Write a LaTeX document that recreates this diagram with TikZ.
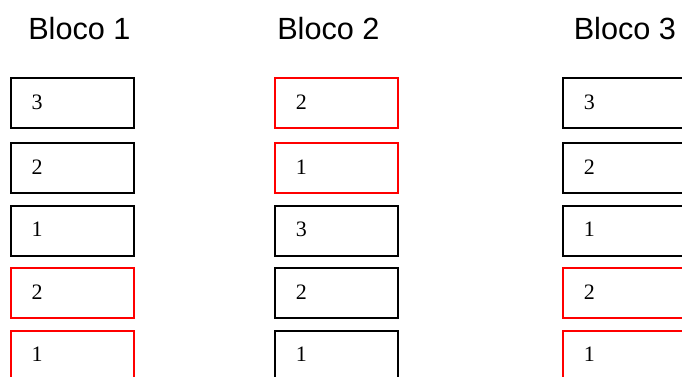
\documentclass[tikz,border=0pt]{standalone}
\usepackage{fontspec}
\setmainfont{Liberation Serif}
\newfontfamily\titlefont{Liberation Sans}
\begin{document}
\begin{tikzpicture}[x=0.75pt,y=-0.75pt,
  cell/.style={draw=black,line width=1.5pt},
  redcell/.style={draw=red,line width=1.5pt},
  title/.style={anchor=base west,inner sep=0pt,font=\titlefont\fontsize{23pt}{27pt}\selectfont},
  digit/.style={anchor=base west,inner sep=0pt,font=\fontsize{16.5pt}{20pt}\selectfont}]
\useasboundingbox (0,0) rectangle (682,377);
\clip (0,0) rectangle (682,377);
\node[title] (t1) at (28,39.3) {Bloco 1};
\node[title] (t2) at (277,39.3) {Bloco 2};
\node[title] (t3) at (573.5,39.3) {Bloco 3};
% columns: left x positions
\def\rowtops{78.3/1,143.3/2,205.8/3,268.3/4,331/5}
% column 1
\foreach \x/\c/\labs/\reds in {11/a/{3,2,1,2,1}/{4,5},275.2/b/{2,1,3,2,1}/{1,2},563.3/c/{3,2,1,2,1}/{4,5}}{
  \foreach \y/\r [count=\i] in \rowtops {
    \def\isred{0}
    \foreach \rr in \reds {\ifnum\rr=\r \global\def\isred{1}\fi}
    \ifnum\isred=1
      \draw[redcell] (\x,\y) rectangle ++(123,50);
    \else
      \draw[cell] (\x,\y) rectangle ++(123,50);
    \fi
    \foreach \l [count=\j] in \labs {\ifnum\j=\r \node[digit] (d\c\r) at (\x+20.3,\y+31) {\l};\fi}
  }
}
\end{tikzpicture}
\end{document}
